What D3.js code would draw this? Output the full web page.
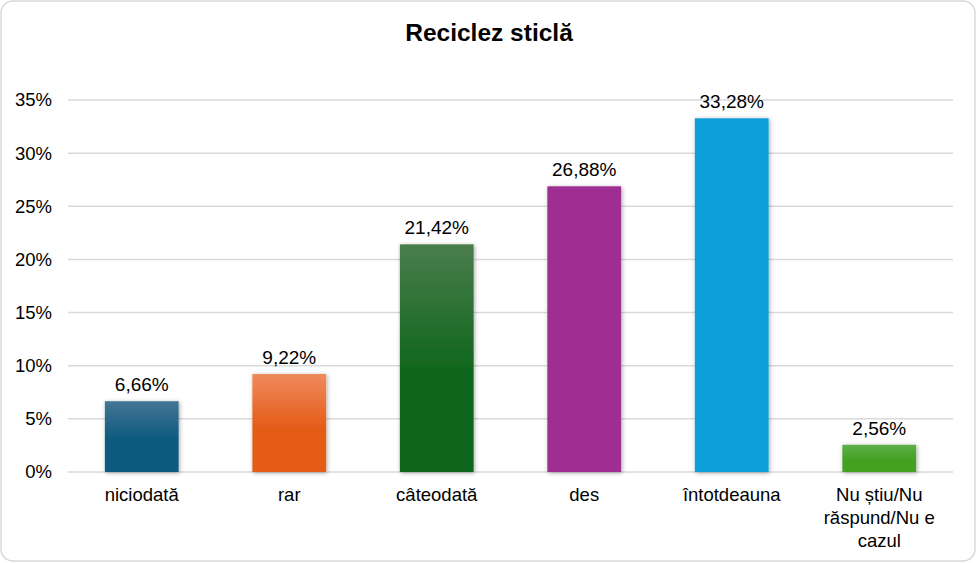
<!DOCTYPE html>
<html>
<head>
<meta charset="utf-8">
<script src="https://cdn.jsdelivr.net/npm/d3@7"></script>
<style>
  body { margin: 0; background: #fff; }
  svg text { font-family: "Liberation Sans", Arial, sans-serif; fill: #000; }
</style>
</head>
<body>
<div id="chart-area"></div>
<script>
// Data
let categories = ["niciodată", "rar", "câteodată", "des", "întotdeauna", "Nu știu/Nu răspund/Nu e cazul"];
let values = [6.66, 9.22, 21.42, 26.88, 33.28, 2.56];
let labels = ["6,66%", "9,22%", "21,42%", "26,88%", "33,28%", "2,56%"];
let ticks = [0, 5, 10, 15, 20, 25, 30, 35];
// top / bottom gradient colours per bar
let colorsTop = ["#457595", "#ef8a5b", "#4a7d4c", "#9f2d92", "#109fd7", "#5fb04a"];
let colorsBottom = ["#0c5a7f", "#e45c19", "#10661d", "#9f2d92", "#109fd7", "#45a024"];

let W = 977, H = 563;
let margin = { left: 68, right: 24, top: 100, bottom: 91 };
let width = W - margin.left - margin.right,
    height = H - margin.top - margin.bottom;

let svg = d3.select("#chart-area")
    .append("svg")
    .attr("width", W)
    .attr("height", H);

// Frame
svg.append("rect")
    .attr("x", 1).attr("y", 1)
    .attr("width", W - 3).attr("height", H - 3)
    .attr("rx", 12).attr("ry", 12)
    .attr("fill", "#fff")
    .attr("stroke", "#d9d9d9")
    .attr("stroke-width", 1.5);

let defs = svg.append("defs");
values.forEach(function(d, i) {
    let gr = defs.append("linearGradient")
        .attr("id", "grad" + i)
        .attr("x1", 0).attr("y1", 0).attr("x2", 0).attr("y2", 1);
    gr.append("stop").attr("offset", "0%").attr("stop-color", colorsTop[i]);
    gr.append("stop").attr("offset", "55%").attr("stop-color", colorsBottom[i]);
    gr.append("stop").attr("offset", "100%").attr("stop-color", colorsBottom[i]);
});
let shadow = defs.append("filter").attr("id", "shadow")
    .attr("x", "-20%").attr("y", "-20%").attr("width", "140%").attr("height", "140%");
shadow.append("feDropShadow")
    .attr("dx", 1).attr("dy", 1).attr("stdDeviation", 2)
    .attr("flood-color", "#000").attr("flood-opacity", 0.35);

// Title
svg.append("text")
    .attr("x", 489)
    .attr("y", 41)
    .attr("text-anchor", "middle")
    .attr("font-size", "24.5px")
    .attr("font-weight", "bold")
    .text("Reciclez sticlă");

let g = svg.append("g")
    .attr("transform", "translate(" + margin.left + ", " + margin.top + ")");

// X Scale
let x = d3.scaleBand()
    .domain(categories)
    .range([0, width])
    .paddingInner(0.5)
    .paddingOuter(0.25);

// Y Scale
let y = d3.scaleLinear()
    .domain([0, 35])
    .range([height, 0]);

// Grid lines
g.append("g")
    .attr("class", "grid")
    .selectAll("line")
    .data(ticks)
    .enter()
    .append("line")
    .attr("x1", 0).attr("x2", width)
    .attr("y1", function(d){ return y(d); })
    .attr("y2", function(d){ return y(d); })
    .attr("stroke", "#d9d9d9")
    .attr("stroke-width", 1.5);

// Y Axis
let yAxisCall = d3.axisLeft(y)
    .tickValues(ticks)
    .tickSize(0)
    .tickPadding(16)
    .tickFormat(function(d){ return d + "%"; });
let yAxis = g.append("g")
    .attr("class", "y axis")
    .call(yAxisCall);
yAxis.select(".domain").remove();
yAxis.selectAll("text").attr("font-size", "18.5px").attr("font-family", null);

// X Axis
let xAxisCall = d3.axisBottom(x).tickSize(0).tickFormat("");
let xAxis = g.append("g")
    .attr("class", "x axis")
    .attr("transform", "translate(0," + height + ")")
    .call(xAxisCall);
xAxis.select(".domain").remove();

// Category labels (wrapped)
let catLines = [["niciodată"], ["rar"], ["câteodată"], ["des"], ["întotdeauna"], ["Nu știu/Nu", "răspund/Nu e", "cazul"]];
categories.forEach(function(c, i) {
    let t = g.append("text")
        .attr("x", x(c) + x.bandwidth() / 2)
        .attr("y", height + 29)
        .attr("text-anchor", "middle")
        .attr("font-size", "18.5px");
    catLines[i].forEach(function(line, j) {
        t.append("tspan")
            .attr("x", x(c) + x.bandwidth() / 2)
            .attr("dy", j === 0 ? 0 : 23)
            .text(line);
    });
});

// Bars
g.selectAll("rect.bar")
    .data(values)
    .enter()
    .append("rect")
    .attr("class", "bar")
    .attr("x", function(d, i){ return x(categories[i]); })
    .attr("y", function(d){ return y(d); })
    .attr("width", x.bandwidth())
    .attr("height", function(d){ return height - y(d); })
    .attr("fill", function(d, i){ return "url(#grad" + i + ")"; })
    .attr("filter", "url(#shadow)");

// Value labels
g.selectAll("text.val")
    .data(values)
    .enter()
    .append("text")
    .attr("class", "val")
    .attr("x", function(d, i){ return x(categories[i]) + x.bandwidth() / 2; })
    .attr("y", function(d){ return y(d) - 10; })
    .attr("text-anchor", "middle")
    .attr("font-size", "19px")
    .text(function(d, i){ return labels[i]; });
</script>
</body>
</html>
